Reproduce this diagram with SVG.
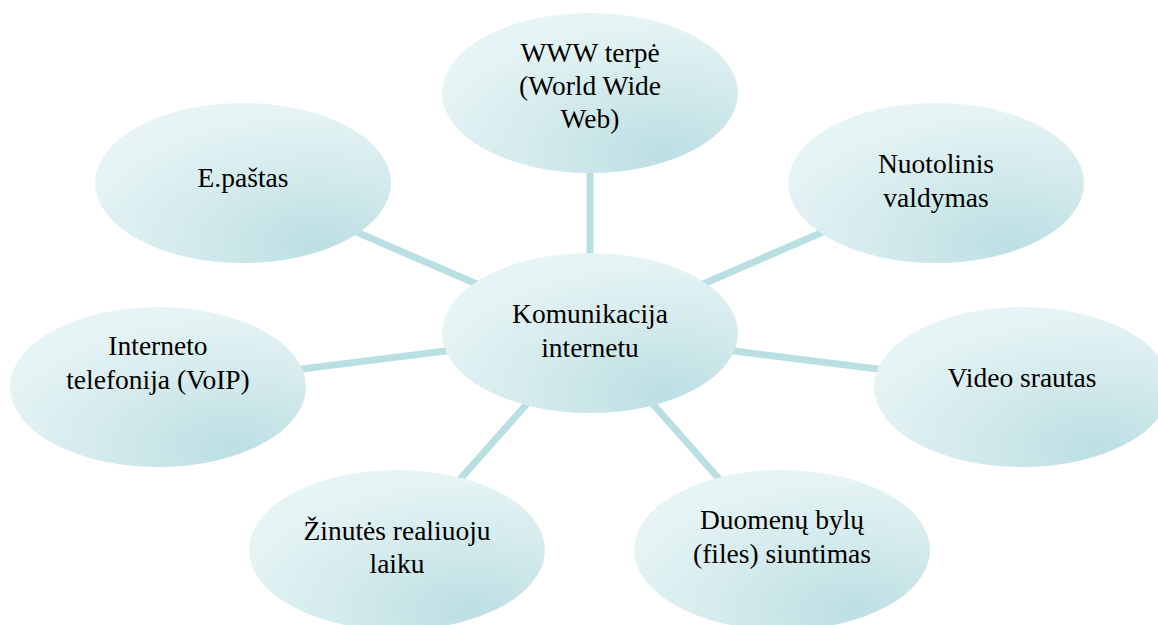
<svg xmlns="http://www.w3.org/2000/svg" width="1158" height="625" viewBox="0 0 1158 625">
  <defs>
    <radialGradient id="bubble" cx="0.75" cy="0.88" r="0.85" fx="0.75" fy="0.88">
      <stop offset="0" stop-color="#bcdfe3"/>
      <stop offset="0.55" stop-color="#d5ebed"/>
      <stop offset="1" stop-color="#e6f4f5"/>
    </radialGradient>
    <style>
      .node ellipse { fill: url(#bubble); }
      .node text { font-family: "Liberation Serif", "Times New Roman", serif; font-size: 27.5px; fill: #000; text-anchor: middle; }
      .link { stroke: #b9dfe3; stroke-width: 7; fill: none; }
    </style>
  </defs>
  <rect width="1158" height="625" fill="#fff"/>

  <!-- spokes from the hub to each outer bubble, drawn beneath the bubbles -->
  <g id="connectors">
    <line class="link" x1="590" y1="333" x2="590" y2="93"/>
    <line class="link" x1="590" y1="333" x2="243" y2="183"/>
    <line class="link" x1="590" y1="333" x2="936" y2="183"/>
    <line class="link" x1="590" y1="333" x2="158" y2="387"/>
    <line class="link" x1="590" y1="333" x2="1022" y2="387"/>
    <line class="link" x1="590" y1="333" x2="397" y2="550"/>
    <line class="link" x1="590" y1="333" x2="782" y2="550"/>
  </g>

  <g id="node-www" class="node">
    <ellipse cx="590" cy="93" rx="148" ry="80"/>
    <text x="590" y="62">WWW terpė</text>
    <text x="590" y="95">(World Wide</text>
    <text x="590" y="128">Web)</text>
  </g>

  <g id="node-email" class="node">
    <ellipse cx="243" cy="183" rx="148" ry="80"/>
    <text x="243" y="187">E.paštas</text>
  </g>

  <g id="node-remote" class="node">
    <ellipse cx="936" cy="183" rx="148" ry="80"/>
    <text x="936" y="173">Nuotolinis</text>
    <text x="936" y="207">valdymas</text>
  </g>

  <g id="node-center" class="node">
    <ellipse cx="590" cy="333" rx="148" ry="80"/>
    <text x="590" y="323">Komunikacija</text>
    <text x="590" y="357">internetu</text>
  </g>

  <g id="node-voip" class="node">
    <ellipse cx="158" cy="387" rx="148" ry="80"/>
    <text x="158" y="355">Interneto</text>
    <text x="158" y="389">telefonija (VoIP)</text>
  </g>

  <g id="node-video" class="node">
    <ellipse cx="1022" cy="387" rx="148" ry="80"/>
    <text x="1022" y="387">Video srautas</text>
  </g>

  <g id="node-messages" class="node">
    <ellipse cx="397" cy="550" rx="148" ry="80"/>
    <text x="397" y="540">Žinutės realiuoju</text>
    <text x="397" y="573">laiku</text>
  </g>

  <g id="node-files" class="node">
    <ellipse cx="782" cy="550" rx="148" ry="80"/>
    <text x="782" y="529">Duomenų bylų</text>
    <text x="782" y="563">(files) siuntimas</text>
  </g>
</svg>
